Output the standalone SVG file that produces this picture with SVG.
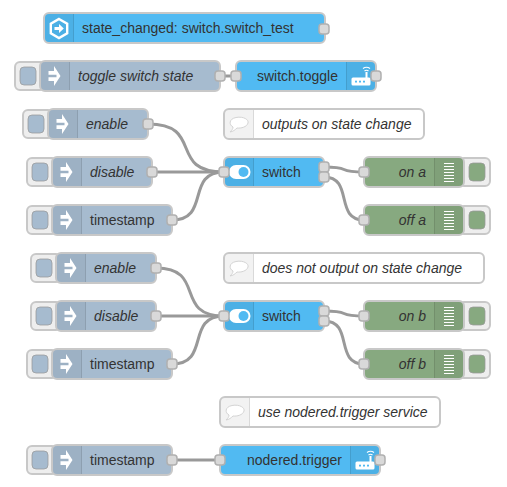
<svg xmlns="http://www.w3.org/2000/svg" width="507" height="487" viewBox="0 0 507 487">
<style>
.body{stroke:#c8c8c8;stroke-width:2}
.inj{fill:#a6bbcf}.dbg{fill:#87a980}.svc{fill:#51baf2}.cmt{fill:#fff}
.shade{fill:#000;fill-opacity:.05}
.div{stroke:#000;stroke-opacity:.1;stroke-width:1;fill:none}
.btn{fill:#eee;stroke:#c8c8c8;stroke-width:2}
.in{stroke:#999;stroke-opacity:.75;stroke-width:1}
.port{fill:#d9d9d9;stroke:#b0b0b0;stroke-width:1.500}
.wire{fill:none;stroke:#999;stroke-width:3}
text{font-family:"Liberation Sans",Arial,sans-serif;font-size:14px;fill:#333;dominant-baseline:middle}
.i{font-style:italic}
</style>
<defs>
<g id="arrow"><path d="M-5.500 -5H0V-10L6.500 0L0 10V5H-5.500V1.200H2.500V-1.200H-5.500Z" fill="#fff"/></g>
<g id="lines" fill="#fff"><rect x="-5" y="-9" width="10" height="1"/><rect x="-5" y="-6" width="10" height="1"/><rect x="-5" y="-3" width="10" height="1"/><rect x="-5" y="0" width="10" height="1"/><rect x="-5" y="3" width="10" height="1"/><rect x="-5" y="6" width="10" height="1"/><rect x="-5" y="9" width="10" height="1"/></g>
<g id="router"><path d="M-8 1.500H4.500V-4H6.500V1.500H8Q9.500 1.500 9.500 3V8Q9.500 9.500 8 9.500H-8Q-9.500 9.500 -9.500 8V3Q-9.500 1.500 -8 1.500Z" fill="#fff"/><rect x="-6" y="4.700" width="2" height="1.800" fill="#51baf2"/><rect x="-2" y="4.700" width="2" height="1.800" fill="#51baf2"/><rect x="2" y="4.700" width="2" height="1.800" fill="#51baf2"/><path d="M3.500 -5Q5.500 -6.500 7.500 -5M2 -7.500Q5.500 -10 9 -7.500" fill="none" stroke="#fff" stroke-width="1.200"/></g>
<g id="bubble"><path d="M-6 3C-10 1 -10.500 -5 -3 -6.500C5 -8 10 -4 9 -1C8 3 2 4.500 -2 4C-4 6 -6 7.500 -9 8C-7 6 -6 5 -6 3Z" fill="#fff" stroke="#d4d4d4" stroke-width="1"/></g>
<g id="toggle"><rect x="-11" y="-7" width="21.500" height="14" rx="7" fill="#fff"/><circle cx="3.500" cy="0" r="5" fill="#51baf2"/></g>
<g id="hex"><path d="M0 -9.500L8.200 -4.750V4.750L0 9.500L-8.200 4.750V-4.750Z" fill="none" stroke="#fff" stroke-width="2.400"/><path d="M-4.500 -1.500H0V-4.500L4.800 0L0 4.500V1.500H-4.500Z" fill="#fff"/></g>
</defs>
<g id="connectors">
<path class="wire" d="M220 76H236"/>
<path class="wire" d="M148 124C205 124 167 172 224 172"/>
<path class="wire" d="M152 172H224"/>
<path class="wire" d="M172 220C211 220 185 172 224 172"/>
<path class="wire" d="M324 167C354 167 334 172 364 172"/>
<path class="wire" d="M324 177C354 177 334 220 364 220"/>
<path class="wire" d="M156 268C207 268 173 316 224 316"/>
<path class="wire" d="M156 316H224"/>
<path class="wire" d="M172 364C211 364 185 316 224 316"/>
<path class="wire" d="M324 311C354 311 334 316 364 316"/>
<path class="wire" d="M324 321C354 321 334 364 364 364"/>
<path class="wire" d="M172 460H220"/>
</g>
<g id="state-changed"><rect class="body svc" x="44" y="13" width="281" height="30" rx="5"/><path class="shade" d="M49 14H74V42H49Q45 42 45 38V18Q45 14 49 14Z"/><path class="div" d="M73.500 14V42"/><use href="#hex" x="59" y="28.500"/><text x="82" y="29.500">state_changed: switch.switch_test</text><rect class="port" x="319" y="24" width="10" height="10" rx="3"/></g>
<g id="toggle-inject"><rect class="btn" x="15" y="62" width="30" height="28" rx="5"/><rect class="inj in" x="20" y="67" width="16" height="18" rx="4"/><rect class="body inj" x="40" y="61" width="180" height="30" rx="5"/><path class="shade" d="M45 62H70V90H45Q41 90 41 86V66Q41 62 45 62Z"/><path class="div" d="M69.500 62V90"/><use href="#arrow" x="54" y="76"/><text class="i" x="78" y="77.500">toggle switch state</text><rect class="port" x="215" y="71" width="10" height="10" rx="3"/></g>
<g id="switch-toggle"><rect class="body svc" x="236" y="61" width="140" height="30" rx="5"/><path class="shade" d="M346 62H371Q375 62 375 66V86Q375 90 371 90H346Z"/><path class="div" d="M346.500 62V90"/><use href="#router" x="361" y="76"/><text x="257" y="77.500">switch.toggle</text><rect class="port" x="231" y="71" width="10" height="10" rx="3"/><rect class="port" x="371" y="71" width="10" height="10" rx="3"/></g>
<g id="comment-a"><rect class="body cmt" x="224" y="109" width="200" height="30" rx="5"/><path class="shade" d="M229 110H254V138H229Q225 138 225 134V114Q225 110 229 110Z"/><path class="div" d="M253.500 110V138"/><use href="#bubble" x="239" y="124"/><text class="i" x="262" y="125.500">outputs on state change</text></g>
<g id="enable-a"><rect class="btn" x="23" y="110" width="30" height="28" rx="5"/><rect class="inj in" x="28" y="115" width="16" height="18" rx="4"/><rect class="body inj" x="48" y="109" width="100" height="30" rx="5"/><path class="shade" d="M53 110H78V138H53Q49 138 49 134V114Q49 110 53 110Z"/><path class="div" d="M77.500 110V138"/><use href="#arrow" x="62" y="124"/><text class="i" x="86" y="125.500">enable</text><rect class="port" x="143" y="119" width="10" height="10" rx="3"/></g>
<g id="disable-a"><rect class="btn" x="27" y="158" width="30" height="28" rx="5"/><rect class="inj in" x="32" y="163" width="16" height="18" rx="4"/><rect class="body inj" x="52" y="157" width="100" height="30" rx="5"/><path class="shade" d="M57 158H82V186H57Q53 186 53 182V162Q53 158 57 158Z"/><path class="div" d="M81.500 158V186"/><use href="#arrow" x="66" y="172"/><text class="i" x="90" y="173.500">disable</text><rect class="port" x="147" y="167" width="10" height="10" rx="3"/></g>
<g id="timestamp-a"><rect class="btn" x="27" y="206" width="30" height="28" rx="5"/><rect class="inj in" x="32" y="211" width="16" height="18" rx="4"/><rect class="body inj" x="52" y="205" width="120" height="30" rx="5"/><path class="shade" d="M57 206H82V234H57Q53 234 53 230V210Q53 206 57 206Z"/><path class="div" d="M81.500 206V234"/><use href="#arrow" x="66" y="220"/><text x="90" y="221.500">timestamp</text><rect class="port" x="167" y="215" width="10" height="10" rx="3"/></g>
<g id="switch-a"><rect class="body svc" x="224" y="157" width="100" height="30" rx="5"/><path class="shade" d="M229 158H254V186H229Q225 186 225 182V162Q225 158 229 158Z"/><path class="div" d="M253.500 158V186"/><use href="#toggle" x="240" y="172"/><text x="262" y="173.500">switch</text><rect class="port" x="219" y="167" width="10" height="10" rx="3"/><rect class="port" x="319" y="162" width="10" height="10" rx="3"/><rect class="port" x="319" y="172" width="10" height="10" rx="3"/></g>
<g id="on-a"><rect class="btn" x="459" y="158" width="31" height="28" rx="5"/><rect class="dbg in" x="469" y="163" width="16" height="18" rx="4"/><rect class="body dbg" x="364" y="157" width="100" height="30" rx="5"/><path class="shade" d="M434 158H459Q463 158 463 162V182Q463 186 459 186H434Z"/><path class="div" d="M434.500 158V186"/><use href="#lines" x="449" y="172"/><text class="i" x="426" y="173.500" text-anchor="end">on a</text><rect class="port" x="359" y="167" width="10" height="10" rx="3"/></g>
<g id="off-a"><rect class="btn" x="459" y="206" width="31" height="28" rx="5"/><rect class="dbg in" x="469" y="211" width="16" height="18" rx="4"/><rect class="body dbg" x="364" y="205" width="100" height="30" rx="5"/><path class="shade" d="M434 206H459Q463 206 463 210V230Q463 234 459 234H434Z"/><path class="div" d="M434.500 206V234"/><use href="#lines" x="449" y="220"/><text class="i" x="426" y="221.500" text-anchor="end">off a</text><rect class="port" x="359" y="215" width="10" height="10" rx="3"/></g>
<g id="comment-b"><rect class="body cmt" x="224" y="253" width="260" height="30" rx="5"/><path class="shade" d="M229 254H254V282H229Q225 282 225 278V258Q225 254 229 254Z"/><path class="div" d="M253.500 254V282"/><use href="#bubble" x="239" y="268"/><text class="i" x="262" y="269.500">does not output on state change</text></g>
<g id="enable-b"><rect class="btn" x="31" y="254" width="30" height="28" rx="5"/><rect class="inj in" x="36" y="259" width="16" height="18" rx="4"/><rect class="body inj" x="56" y="253" width="100" height="30" rx="5"/><path class="shade" d="M61 254H86V282H61Q57 282 57 278V258Q57 254 61 254Z"/><path class="div" d="M85.500 254V282"/><use href="#arrow" x="70" y="268"/><text class="i" x="94" y="269.500">enable</text><rect class="port" x="151" y="263" width="10" height="10" rx="3"/></g>
<g id="disable-b"><rect class="btn" x="31" y="302" width="30" height="28" rx="5"/><rect class="inj in" x="36" y="307" width="16" height="18" rx="4"/><rect class="body inj" x="56" y="301" width="100" height="30" rx="5"/><path class="shade" d="M61 302H86V330H61Q57 330 57 326V306Q57 302 61 302Z"/><path class="div" d="M85.500 302V330"/><use href="#arrow" x="70" y="316"/><text class="i" x="94" y="317.500">disable</text><rect class="port" x="151" y="311" width="10" height="10" rx="3"/></g>
<g id="timestamp-b"><rect class="btn" x="27" y="350" width="30" height="28" rx="5"/><rect class="inj in" x="32" y="355" width="16" height="18" rx="4"/><rect class="body inj" x="52" y="349" width="120" height="30" rx="5"/><path class="shade" d="M57 350H82V378H57Q53 378 53 374V354Q53 350 57 350Z"/><path class="div" d="M81.500 350V378"/><use href="#arrow" x="66" y="364"/><text x="90" y="365.500">timestamp</text><rect class="port" x="167" y="359" width="10" height="10" rx="3"/></g>
<g id="switch-b"><rect class="body svc" x="224" y="301" width="100" height="30" rx="5"/><path class="shade" d="M229 302H254V330H229Q225 330 225 326V306Q225 302 229 302Z"/><path class="div" d="M253.500 302V330"/><use href="#toggle" x="240" y="316"/><text x="262" y="317.500">switch</text><rect class="port" x="219" y="311" width="10" height="10" rx="3"/><rect class="port" x="319" y="306" width="10" height="10" rx="3"/><rect class="port" x="319" y="316" width="10" height="10" rx="3"/></g>
<g id="on-b"><rect class="btn" x="459" y="302" width="31" height="28" rx="5"/><rect class="dbg in" x="469" y="307" width="16" height="18" rx="4"/><rect class="body dbg" x="364" y="301" width="100" height="30" rx="5"/><path class="shade" d="M434 302H459Q463 302 463 306V326Q463 330 459 330H434Z"/><path class="div" d="M434.500 302V330"/><use href="#lines" x="449" y="316"/><text class="i" x="426" y="317.500" text-anchor="end">on b</text><rect class="port" x="359" y="311" width="10" height="10" rx="3"/></g>
<g id="off-b"><rect class="btn" x="459" y="350" width="31" height="28" rx="5"/><rect class="dbg in" x="469" y="355" width="16" height="18" rx="4"/><rect class="body dbg" x="364" y="349" width="100" height="30" rx="5"/><path class="shade" d="M434 350H459Q463 350 463 354V374Q463 378 459 378H434Z"/><path class="div" d="M434.500 350V378"/><use href="#lines" x="449" y="364"/><text class="i" x="426" y="365.500" text-anchor="end">off b</text><rect class="port" x="359" y="359" width="10" height="10" rx="3"/></g>
<g id="comment-c"><rect class="body cmt" x="220" y="397" width="220" height="30" rx="5"/><path class="shade" d="M225 398H250V426H225Q221 426 221 422V402Q221 398 225 398Z"/><path class="div" d="M249.500 398V426"/><use href="#bubble" x="235" y="412"/><text class="i" x="258" y="413.500">use nodered.trigger service</text></g>
<g id="timestamp-c"><rect class="btn" x="27" y="446" width="30" height="28" rx="5"/><rect class="inj in" x="32" y="451" width="16" height="18" rx="4"/><rect class="body inj" x="52" y="445" width="120" height="30" rx="5"/><path class="shade" d="M57 446H82V474H57Q53 474 53 470V450Q53 446 57 446Z"/><path class="div" d="M81.500 446V474"/><use href="#arrow" x="66" y="460"/><text x="90" y="461.500">timestamp</text><rect class="port" x="167" y="455" width="10" height="10" rx="3"/></g>
<g id="nodered-trigger"><rect class="body svc" x="220" y="445" width="160" height="30" rx="5"/><path class="shade" d="M350 446H375Q379 446 379 450V470Q379 474 375 474H350Z"/><path class="div" d="M350.500 446V474"/><use href="#router" x="365" y="460"/><text x="247" y="461.500">nodered.trigger</text><rect class="port" x="215" y="455" width="10" height="10" rx="3"/><rect class="port" x="375" y="455" width="10" height="10" rx="3"/></g>
</svg>
